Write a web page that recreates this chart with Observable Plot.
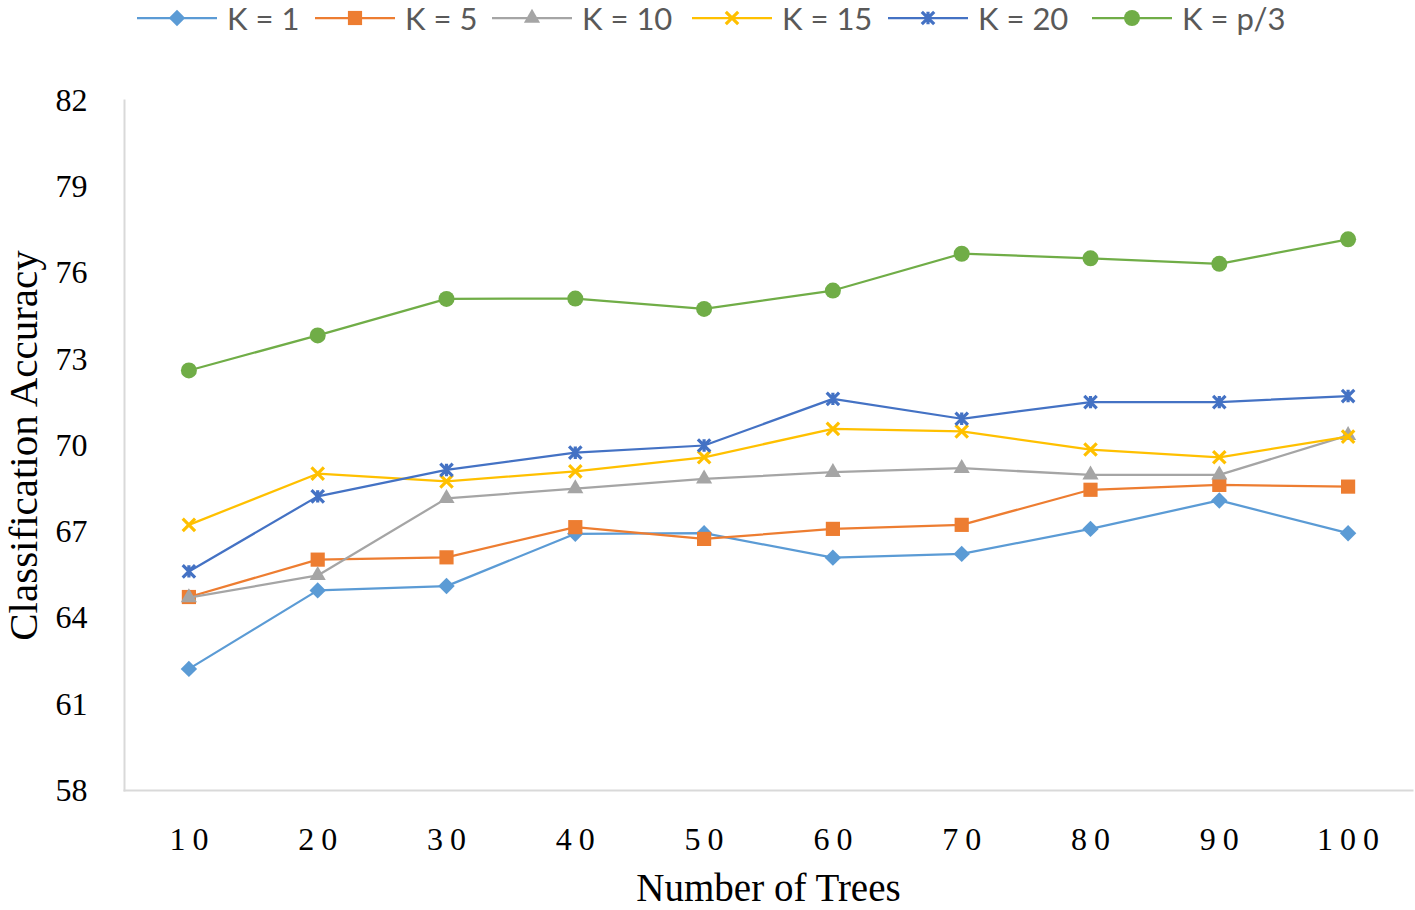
<!DOCTYPE html>
<html>
<head>
<meta charset="utf-8">
<script src="https://cdn.jsdelivr.net/npm/d3@7"></script>
<script src="https://cdn.jsdelivr.net/npm/@observablehq/plot@0.6"></script>
<style>
  html, body { margin: 0; padding: 0; background: #fff; }
  #wrap { position: relative; width: 1415px; height: 910px; overflow: hidden; }
  #legend { position: relative; width: 1415px; height: 40px; }
  .item { position: absolute; top: 0; height: 40px; display: flex; align-items: center; }
  .item span { font-family: Lato, "Open Sans", sans-serif; font-size: 31px; color: #595959; margin-left: 10px; white-space: nowrap; }
  g[aria-label="x-axis tick label"] text { letter-spacing: 7px; }
</style>
</head>
<body>
<div id="wrap">
  <div id="legend"></div>
  <div id="chart"></div>
</div>
<script>
// ---- data ----
const trees = [10, 20, 30, 40, 50, 60, 70, 80, 90, 100];
const seriesNames = ["K = 1", "K = 5", "K = 10", "K = 15", "K = 20", "K = p/3"];
const accK1  = [62.23, 64.96, 65.11, 66.93, 66.95, 66.10, 66.23, 67.10, 68.09, 66.95];
const accK5  = [64.73, 66.03, 66.11, 67.16, 66.75, 67.10, 67.24, 68.46, 68.63, 68.57];
const accK10 = [64.71, 65.48, 68.16, 68.50, 68.84, 69.07, 69.21, 68.98, 68.98, 70.35];
const accK15 = [67.24, 69.02, 68.75, 69.10, 69.59, 70.58, 70.49, 69.86, 69.59, 70.31];
const accK20 = [65.62, 68.23, 69.15, 69.75, 70.00, 71.62, 70.93, 71.51, 71.51, 71.72];
const accKp3 = [72.61, 73.83, 75.10, 75.11, 74.75, 75.39, 76.67, 76.51, 76.32, 77.17];
const yTicks = [58, 61, 64, 67, 70, 73, 76, 79, 82];
const xTitle = "Number of Trees";
const yTitle = "Classification Accuracy";

const seriesValues = [accK1, accK5, accK10, accK15, accK20, accKp3];

// ---- styles ----
const colors = ["#5B9BD5", "#ED7D31", "#A5A5A5", "#FFC000", "#4472C4", "#70AD47"];
const xSym = {draw(ctx, size) { const r = Math.sqrt(size / Math.PI);
  ctx.moveTo(-r, -r); ctx.lineTo(r, r); ctx.moveTo(r, -r); ctx.lineTo(-r, r); }};
const starSym = {draw(ctx, size) { const r = Math.sqrt(size / Math.PI);
  ctx.moveTo(-r, -r); ctx.lineTo(r, r); ctx.moveTo(r, -r); ctx.lineTo(-r, r);
  ctx.moveTo(0, -r); ctx.lineTo(0, r); }};
const markerStyles = [
  {symbol: "diamond2", r: 7.4, filled: true},
  {symbol: "square", r: 8.0, filled: true},
  {symbol: "triangle", r: 6.0, filled: true},
  {symbol: xSym, r: 6.2, filled: false, sw: 3.2},
  {symbol: starSym, r: 6.2, filled: false, sw: 3.2},
  {symbol: "circle", r: 8.0, filled: true}
];
const legendLeft = [137, 315, 492, 692, 888, 1092];
const serif = "'Liberation Serif', 'Times New Roman', serif";

// ---- table ----
const rows = [];
seriesNames.forEach((s, i) => trees.forEach((t, j) => rows.push({series: s, trees: t, acc: seriesValues[i][j]})));

const marks = [
  Plot.frame({anchor: "left", stroke: "#d9d9d9", strokeWidth: 2}),
  Plot.frame({anchor: "bottom", stroke: "#d9d9d9", strokeWidth: 2}),
  Plot.axisY({ticks: yTicks, tickSize: 0, tickPadding: 37, fontSize: 32, label: null, fontFamily: serif}),
  Plot.axisX({tickSize: 0, tickPadding: 37, fontSize: 32, label: null, dx: 3.5, fontFamily: serif}),
  Plot.text([xTitle], {text: d => d, frameAnchor: "bottom", textAnchor: "middle", lineAnchor: "middle", dy: 98,
    fontSize: 39, fontFamily: serif, fill: "#000"}),
  Plot.text([yTitle], {text: d => d, frameAnchor: "left", textAnchor: "middle", lineAnchor: "middle", rotate: -90, dx: -101,
    fontSize: 41, fontFamily: serif, fill: "#000"})
];
seriesNames.forEach((s, i) => {
  const data = rows.filter(d => d.series === s);
  const m = markerStyles[i];
  marks.push(Plot.line(data, {x: "trees", y: "acc", stroke: colors[i], strokeWidth: 2.25}));
  marks.push(Plot.dot(data, {x: "trees", y: "acc", symbol: m.symbol, r: m.r,
    fill: m.filled ? colors[i] : "none", stroke: m.filled ? "none" : colors[i],
    strokeWidth: m.sw || 1}));
});

const chart = Plot.plot({
  width: 1415,
  height: 870,
  marginTop: 60,
  marginBottom: 120,
  marginLeft: 124,
  marginRight: 3,
  style: {background: "#fff", color: "#000", overflow: "visible"},
  x: {type: "point", domain: trees, padding: 0.5, round: false},
  y: {domain: [58, 82]},
  marks
});
document.getElementById("chart").appendChild(chart);

// ---- legend ----
const legend = d3.select("#legend");
const typeMap = {diamond2: d3.symbolDiamond2, square: d3.symbolSquare, triangle: d3.symbolTriangle, circle: d3.symbolCircle};
seriesNames.forEach((s, i) => {
  const m = markerStyles[i];
  const item = legend.append("div").attr("class", "item").style("left", legendLeft[i] + "px");
  const svg = item.append("svg").attr("width", 80).attr("height", 40);
  svg.append("line").attr("x1", 0).attr("x2", 80).attr("y1", 18).attr("y2", 18)
    .attr("stroke", colors[i]).attr("stroke-width", 2.25);
  const type = typeof m.symbol === "string" ? typeMap[m.symbol] : m.symbol;
  svg.append("path").attr("transform", "translate(40,18)")
    .attr("d", d3.symbol(type, Math.PI * m.r * m.r)())
    .attr("fill", m.filled ? colors[i] : "none")
    .attr("stroke", m.filled ? "none" : colors[i])
    .attr("stroke-width", m.sw || 1);
  item.append("span").text(s).style("margin-top", "-4px");
});
</script>
</body>
</html>
